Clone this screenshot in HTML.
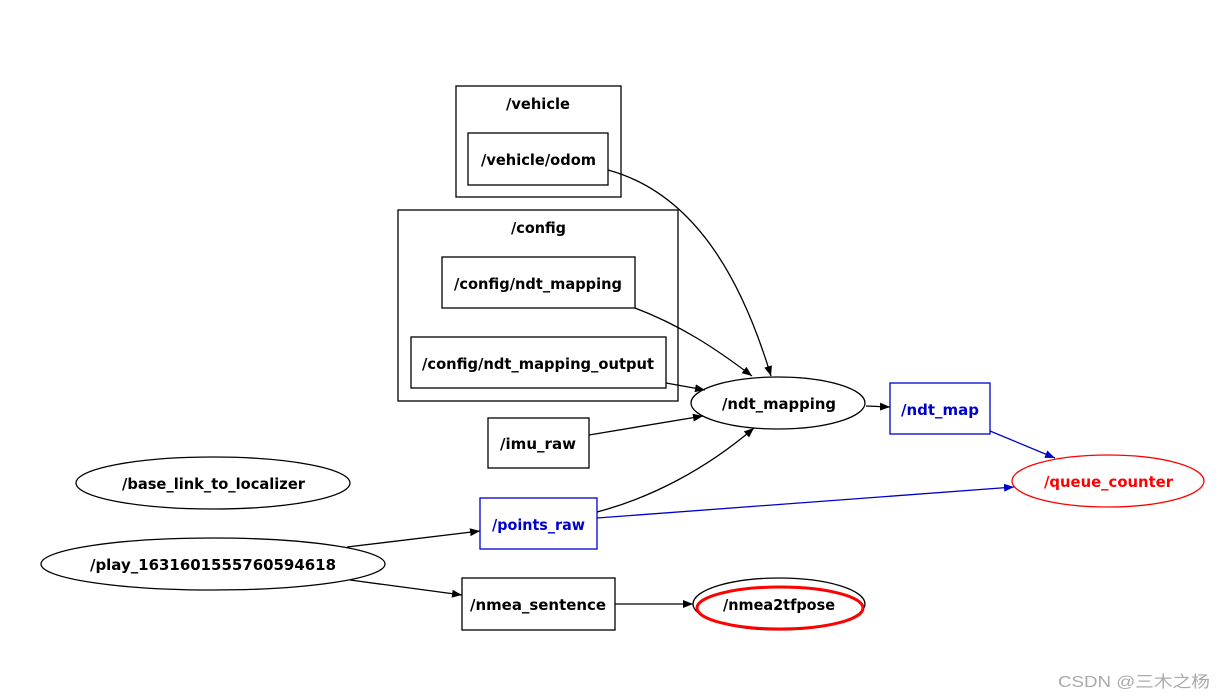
<!DOCTYPE html>
<html><head><meta charset="utf-8"><style>
html,body{margin:0;padding:0;background:#fff;}
svg{display:block;}
text{font-family:"DejaVu Sans","Liberation Sans",sans-serif;font-weight:bold;font-size:15px;}
</style></head><body>
<svg width="1224" height="698" viewBox="0 0 1224 698" xmlns="http://www.w3.org/2000/svg">
<defs>
<marker id="ab" markerWidth="10" markerHeight="8" refX="10" refY="4" orient="auto" markerUnits="userSpaceOnUse" viewBox="0 0 10 8"><path d="M0,0 L10,4 L0,8 Z" fill="#000"/></marker>
<marker id="au" markerWidth="10" markerHeight="8" refX="10" refY="4" orient="auto" markerUnits="userSpaceOnUse" viewBox="0 0 10 8"><path d="M0,0 L10,4 L0,8 Z" fill="#0000cc"/></marker>
</defs>
<rect width="1224" height="698" fill="#fff"/>
<g fill="none" stroke="#000" stroke-width="1.3">
<rect x="456" y="86" width="165" height="111"/>
<rect x="468" y="133" width="140" height="52"/>
<rect x="398" y="210" width="280" height="191"/>
<rect x="442" y="257" width="193" height="51"/>
<rect x="411" y="337" width="255" height="51"/>
<rect x="488" y="418" width="101" height="50"/>
<ellipse cx="778" cy="403" rx="87" ry="26"/>
<ellipse cx="213" cy="483" rx="137" ry="26"/>
<ellipse cx="213" cy="564" rx="172" ry="26"/>
<rect x="462" y="578" width="153" height="52"/>
<ellipse cx="779" cy="604" rx="86" ry="26"/>
</g>
<rect x="890" y="383" width="100" height="51" fill="none" stroke="#0000cc" stroke-width="1.3"/>
<rect x="480" y="498" width="117" height="51" fill="none" stroke="#0000cc" stroke-width="1.3"/>
<ellipse cx="1108" cy="481" rx="96" ry="26" fill="none" stroke="#f00" stroke-width="1.3"/>
<ellipse cx="780" cy="608" rx="83" ry="21" fill="none" stroke="#f00" stroke-width="3"/>
<g fill="none" stroke="#000" stroke-width="1.3">
<path d="M608,170 C700,195 745,290 771,376" marker-end="url(#ab)"/>
<path d="M635,308 C680,325 715,348 752,376" marker-end="url(#ab)"/>
<path d="M666,383 L705,390" marker-end="url(#ab)"/>
<path d="M589,435 L703,416" marker-end="url(#ab)"/>
<path d="M597,512 C650,498 705,470 754,428" marker-end="url(#ab)"/>
<path d="M866,406 L890,407" marker-end="url(#ab)"/>
<path d="M347,547 L480,531" marker-end="url(#ab)"/>
<path d="M350,580 L462,595" marker-end="url(#ab)"/>
<path d="M615,604 L693,604" marker-end="url(#ab)"/>
</g>
<g fill="none" stroke="#0000cc" stroke-width="1.3">
<path d="M990,431 L1055,458" marker-end="url(#au)"/>
<path d="M597,518 L1014,487" marker-end="url(#au)"/>
</g>
<g text-anchor="start" fill="#000">
<text x="506" y="109" textLength="64" lengthAdjust="spacingAndGlyphs">/vehicle</text>
<text x="481" y="165" textLength="115" lengthAdjust="spacingAndGlyphs">/vehicle/odom</text>
<text x="511" y="233" textLength="55" lengthAdjust="spacingAndGlyphs">/config</text>
<text x="454" y="289" textLength="168" lengthAdjust="spacingAndGlyphs">/config/ndt_mapping</text>
<text x="422" y="369" textLength="232" lengthAdjust="spacingAndGlyphs">/config/ndt_mapping_output</text>
<text x="500" y="449" textLength="76" lengthAdjust="spacingAndGlyphs">/imu_raw</text>
<text x="722" y="409" textLength="114" lengthAdjust="spacingAndGlyphs">/ndt_mapping</text>
<text x="122" y="489" textLength="183" lengthAdjust="spacingAndGlyphs">/base_link_to_localizer</text>
<text x="90" y="570" textLength="246" lengthAdjust="spacingAndGlyphs">/play_1631601555760594618</text>
<text x="470" y="610" textLength="136" lengthAdjust="spacingAndGlyphs">/nmea_sentence</text>
<text x="723" y="610" textLength="112" lengthAdjust="spacingAndGlyphs">/nmea2tfpose</text>
<text x="901" y="415" fill="#0000cc" textLength="78" lengthAdjust="spacingAndGlyphs">/ndt_map</text>
<text x="492" y="530" fill="#0000cc" textLength="93" lengthAdjust="spacingAndGlyphs">/points_raw</text>
<text x="1044" y="487" fill="#f00" textLength="129" lengthAdjust="spacingAndGlyphs">/queue_counter</text>
</g>
<text x="1058" y="687" fill="#aaa" style="font-weight:normal;font-size:16px;font-family:'Liberation Sans','Noto Sans CJK SC',sans-serif" textLength="152" lengthAdjust="spacingAndGlyphs">CSDN @三木之杨</text>
</svg>
</body></html>
